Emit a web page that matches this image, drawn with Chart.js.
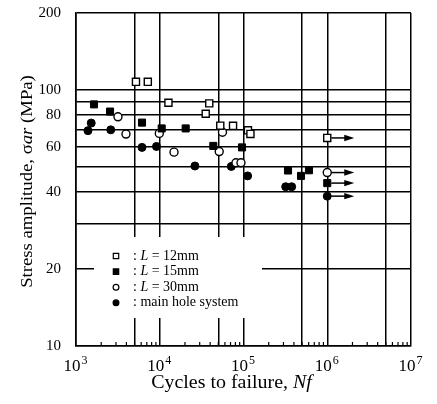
<!DOCTYPE html>
<html><head><meta charset="utf-8">
<script src="https://cdn.jsdelivr.net/npm/chart.js@4.4.0/dist/chart.umd.min.js"></script>
<style>html,body{margin:0;padding:0;background:#fff}#wrap{width:437px;height:404px;position:relative}</style>
</head><body><div id="wrap"><canvas id="c"></canvas></div>
<script>
// ---- data ----
const seriesNames = ['L = 12mm', 'L = 15mm', 'L = 30mm', 'main hole system'];
const L12_N = [5200, 7200, 12700, 39000, 35400, 52800, 75000, 113000, 121000, 1000000];
const L12_S = [107.7, 107.7, 89.2, 88.7, 80.8, 72.6, 72.5, 69.6, 67.4, 65];
const L15_N = [1640, 2550, 6140, 10550, 20400, 43600, 96000, 340000, 486000, 605000, 1000000];
const L15_S = [87.9, 82.4, 74.6, 70.8, 70.8, 60.5, 59.7, 48.5, 46.2, 48.6, 43.3];
const L30_N = [3170, 3950, 9880, 14800, 56100, 51300, 81300, 93300, 1000000];
const L30_S = [78.6, 67.3, 67.7, 57.2, 68.4, 57.5, 52.0, 52.0, 47.6];
const MAIN_N = [1520, 1390, 2600, 6140, 9140, 26300, 71500, 112000, 319000, 376000, 1000000];
const MAIN_S = [74.3, 69.4, 69.9, 59.7, 60.2, 50.5, 50.3, 46.2, 41.9, 41.9, 38.5];
// run-out (unbroken) specimens: arrows from N = 1e6 toward arrowToN
const runoutN = 1000000;
const runoutS = [65, 47.6, 43.3, 38.5];
const arrowToN = 2100000;
// axes
const xTicks = [1e3, 5e3, 1e4, 5e4, 1e5, 5e5, 1e6, 5e6, 1e7];
const xLabelTicks = [1e3, 1e4, 1e5, 1e6, 1e7];
const yTicks = [10, 20, 30, 40, 50, 60, 70, 80, 90, 100, 200];
const yLabelTicks = [10, 20, 40, 60, 80, 100, 200];
const xTitleParts = [['Cycles to failure, ', false], ['Nf', true]];
const yTitleParts = [['Stress amplitude, ', false], ['\u03C3', false], ['ar', true], [' (MPa)', false]];

const FONT = "'Liberation Serif','Times New Roman',serif";

function pts(N, S) { return N.map((n, i) => ({x: n, y: S[i]})); }

const styles = [
  {pointStyle: 'rect', radius: 5, fill: '#fff', bw: 1.4},
  {pointStyle: 'rect', radius: 5, fill: '#000', bw: 1},
  {pointStyle: 'circle', radius: 4, fill: '#fff', bw: 1.4},
  {pointStyle: 'circle', radius: 4, fill: '#000', bw: 1}
];
const dataSets = [pts(L12_N, L12_S), pts(L15_N, L15_S), pts(L30_N, L30_S), pts(MAIN_N, MAIN_S)];

const decorPlugin = {
  id: 'decor',
  beforeDatasetsDraw(chart) {
    const ctx = chart.ctx, a = chart.chartArea, xs = chart.scales.x;
    ctx.save();
    // minor ticks on bottom axis (inward)
    ctx.strokeStyle = '#000'; ctx.lineWidth = 1.2;
    for (let d = 3; d < 7; d++) {
      for (let m = 2; m <= 9; m++) {
        const px = xs.getPixelForValue(m * Math.pow(10, d));
        ctx.beginPath(); ctx.moveTo(px, a.bottom); ctx.lineTo(px, a.bottom - 4); ctx.stroke();
      }
    }
    // legend box (white, covering grid)
    const lx = a.left + 18, ly = a.top + 224, lw = 168, lh = 81;
    ctx.fillStyle = '#fff';
    ctx.fillRect(lx, ly, lw, lh);
    const rowH = 15.6;
    for (let i = 0; i < 4; i++) {
      const cy = ly + 19 + i * rowH, mx = a.left + 40;
      const st = styles[i];
      ctx.lineWidth = 1.2; ctx.strokeStyle = '#000'; ctx.fillStyle = st.fill;
      ctx.beginPath();
      if (st.pointStyle === 'rect') ctx.rect(mx - 2.7, cy - 2.7, 5.4, 5.4);
      else ctx.arc(mx, cy, 2.9, 0, Math.PI * 2);
      ctx.fill(); ctx.stroke();
      ctx.fillStyle = '#000'; ctx.textBaseline = 'middle'; ctx.textAlign = 'left';
      let tx = a.left + 57;
      let parts;
      if (i < 3) parts = [[': ', false], ['L', true], [seriesNames[i].slice(1), false]];
      else parts = [[': ' + seriesNames[i], false]];
      for (const [t, it] of parts) {
        ctx.font = (it ? 'italic ' : '') + '14px ' + FONT;
        ctx.fillText(t, tx, cy);
        tx += ctx.measureText(t).width;
      }
    }
    ctx.restore();
  },
  afterDatasetsDraw(chart) {
    const ctx = chart.ctx, xs = chart.scales.x, ys = chart.scales.y;
    ctx.save();
    ctx.strokeStyle = '#000'; ctx.fillStyle = '#000'; ctx.lineWidth = 1.5;
    for (const s of runoutS) {
      const x0 = xs.getPixelForValue(runoutN) + 4, x1 = xs.getPixelForValue(arrowToN), y = ys.getPixelForValue(s);
      ctx.beginPath(); ctx.moveTo(x0, y); ctx.lineTo(x1 - 7, y); ctx.stroke();
      ctx.beginPath(); ctx.moveTo(x1, y); ctx.lineTo(x1 - 10, y - 3.2); ctx.lineTo(x1 - 10, y + 3.2); ctx.closePath(); ctx.fill();
    }
    ctx.restore();
  },
  afterDraw(chart) {
    const ctx = chart.ctx, a = chart.chartArea, xs = chart.scales.x;
    ctx.save();
    ctx.fillStyle = '#000';
    // x tick labels 10^n with raised exponent
    ctx.textBaseline = 'alphabetic';
    for (const v of xLabelTicks) {
      const px = xs.getPixelForValue(v);
      const e = String(Math.round(Math.log10(v)));
      ctx.font = '17px ' + FONT; const wb = ctx.measureText('10').width;
      ctx.font = '12px ' + FONT; const we = ctx.measureText(e).width;
      const x0 = px - (wb + we) / 2 - 1;
      ctx.textAlign = 'left';
      ctx.font = '17px ' + FONT; ctx.fillText('10', x0, a.bottom + 25);
      ctx.font = '12px ' + FONT; ctx.fillText(e, x0 + wb + 1, a.bottom + 18);
    }
    ctx.textBaseline = 'alphabetic'; ctx.textAlign = 'left';
    function drawParts(parts, size, cx, cy, rot, stretch) {
      let total = 0;
      const ws = parts.map(([t, it]) => { ctx.font = (it ? 'italic ' : '') + size + 'px ' + FONT; const w = ctx.measureText(t).width; total += w; return w; });
      ctx.save(); ctx.translate(cx, cy); ctx.rotate(rot); ctx.scale(stretch, 1);
      let x = -total / 2;
      parts.forEach(([t, it], i) => { ctx.font = (it ? 'italic ' : '') + size + 'px ' + FONT; ctx.fillText(t, x, 0); x += ws[i]; });
      ctx.restore();
    }
    drawParts(xTitleParts, 19, (a.left + a.right) / 2 - 12, a.bottom + 42, 0, 1.05);
    drawParts(yTitleParts, 17, 32, (a.top + a.bottom) / 2 + 2, -Math.PI / 2, 1.1);
    ctx.restore();
  }
};

function gridColorFor(vals) {
  return (c) => (c.tick && vals.includes(c.tick.value)) ? '#000' : 'rgba(0,0,0,0)';
}

new Chart(document.getElementById('c'), {
  type: 'scatter',
  data: {
    datasets: dataSets.map((d, i) => ({
      label: seriesNames[i], data: d,
      pointStyle: styles[i].pointStyle, pointRadius: styles[i].radius, pointHoverRadius: styles[i].radius,
      backgroundColor: styles[i].fill, borderColor: '#000', borderWidth: styles[i].bw, showLine: false
    }))
  },
  options: {
    responsive: true, maintainAspectRatio: false, animation: false,
    layout: {padding: {top: 13, right: 26, left: 0, bottom: 0}},
    plugins: {legend: {display: false}, tooltip: {enabled: false}},
    scales: {
      x: {
        type: 'logarithmic', min: 1e3, max: 1e7,
        afterBuildTicks: (s) => { s.ticks = xTicks.map(v => ({value: v})); },
        afterFit: (s) => { s.height = 58; s.paddingLeft = 0; s.paddingRight = 0; },
        ticks: {display: false, autoSkip: false},
        grid: {color: gridColorFor(xTicks), lineWidth: 1.5, drawTicks: false},
        border: {display: true, color: '#000', width: 1.6}
      },
      y: {
        type: 'logarithmic', min: 10, max: 200,
        afterBuildTicks: (s) => { s.ticks = yTicks.map(v => ({value: v})); },
        afterFit: (s) => { s.width = 76; s.paddingTop = 0; s.paddingBottom = 0; },
        ticks: {
          autoSkip: false, padding: 15, color: '#000',
          font: {family: FONT, size: 15},
          callback: (v) => yLabelTicks.includes(v) ? String(v) : ''
        },
        grid: {color: gridColorFor(yTicks), lineWidth: 1.5, drawTicks: false},
        border: {display: true, color: '#000', width: 1.6}
      }
    }
  },
  plugins: [decorPlugin]
});
</script>
</body></html>
